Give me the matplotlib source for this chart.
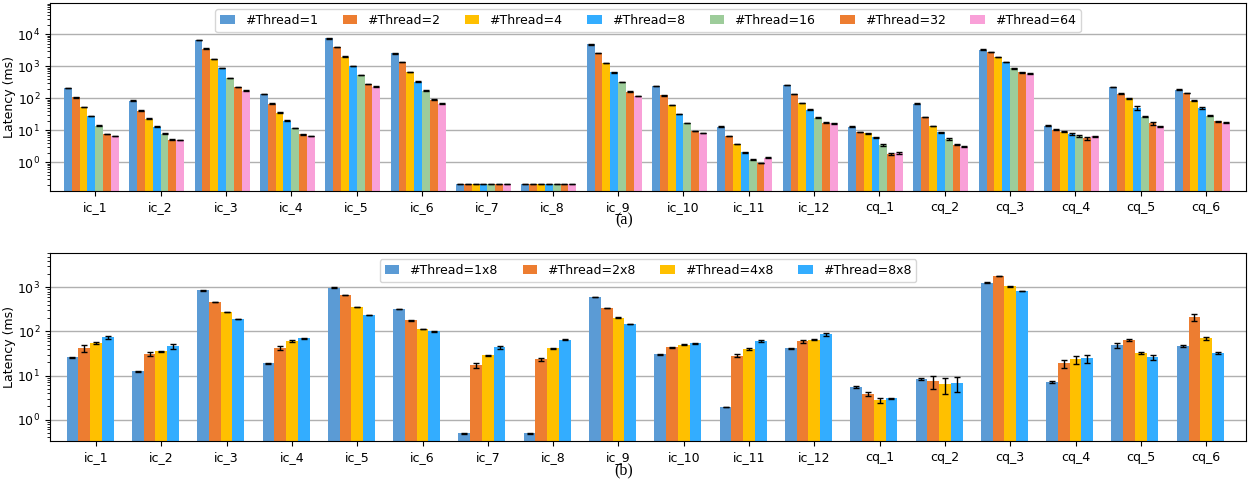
import numpy as np
from matplotlib import pyplot as plt

queries = ["ic_1", "ic_2", "ic_3", "ic_4", "ic_5", "ic_6", "ic_7", "ic_8", "ic_9",
           "ic_10", "ic_11", "ic_12", "cq_1", "cq_2", "cq_3", "cq_4", "cq_5", "cq_6"]

# (a) latency per thread count
threads_a = ["#Thread=1", "#Thread=2", "#Thread=4", "#Thread=8",
             "#Thread=16", "#Thread=32", "#Thread=64"]
lat_a = [
    [211, 84.5, 6640, 137, 7490, 2530, 0.21, 0.21, 4850, 244, 12.9, 256, 12.9, 68, 3300, 13.8, 227, 187],
    [107, 41, 3550, 68, 4000, 1350, 0.21, 0.21, 2590, 124, 6.7, 134, 8.75, 25.9, 2850, 10.4, 140, 147],
    [53, 23, 1720, 35.5, 1990, 672, 0.21, 0.21, 1290, 61.7, 3.68, 71.3, 7.95, 13.5, 1990, 8.97, 100, 84.5],
    [27.9, 12.9, 897, 19.9, 1010, 334, 0.21, 0.21, 640, 32.2, 2.06, 44, 5.96, 8.75, 1350, 7.58, 49.7, 49.7],
    [13.8, 7.8, 435, 11.7, 528, 174, 0.21, 0.21, 326, 16.8, 1.21, 24.7, 3.42, 5.28, 855, 6.7, 26.5, 28.5],
    [7.6, 5.0, 227, 7.4, 282, 91, 0.21, 0.21, 162, 9.6, 0.95, 17.2, 1.78, 3.5, 640, 5.67, 16.4, 18.9],
    [6.7, 4.9, 174, 6.7, 232, 68, 0.21, 0.21, 118, 8.3, 1.37, 16.4, 1.96, 3.1, 595, 6.4, 13.2, 17.2],
]
err_a = [
    [3, 1.5, 100, 2.5, 120, 40, 0.003, 0.003, 80, 4, 0.3, 4, 0.3, 1.2, 50, 0.3, 4, 3],
    [2, 1, 60, 1.5, 70, 25, 0.003, 0.003, 45, 2, 0.15, 2.5, 0.2, 0.5, 45, 0.3, 3, 4],
    [1, 0.5, 30, 0.8, 35, 12, 0.003, 0.003, 22, 1, 0.08, 1.2, 0.2, 0.3, 30, 0.25, 2, 2],
    [0.5, 0.3, 15, 0.4, 18, 6, 0.003, 0.003, 11, 0.6, 0.05, 0.8, 0.3, 0.3, 20, 0.5, 7, 2],
    [0.3, 0.2, 8, 0.3, 9, 3, 0.003, 0.003, 6, 0.3, 0.03, 0.5, 0.3, 0.3, 14, 0.5, 1, 0.8],
    [0.2, 0.15, 4, 0.2, 5, 2, 0.003, 0.003, 3, 0.2, 0.02, 0.3, 0.1, 0.1, 10, 0.6, 1.5, 0.5],
    [0.15, 0.1, 3, 0.15, 4, 1.5, 0.003, 0.003, 2, 0.15, 0.04, 0.3, 0.12, 0.08, 9, 0.3, 0.3, 0.6],
]

# (b) latency per thread layout
threads_b = ["#Thread=1x8", "#Thread=2x8", "#Thread=4x8", "#Thread=8x8"]
lat_b = [
    [26.1, 12.5, 855, 19.1, 983, 322, 0.49, 0.49, 603, 30.5, 1.94, 41.8, 5.43, 8.26, 1277, 7.05, 48.9, 46.4],
    [41.8, 30.5, 464, 41.8, 669, 181, 17.2, 23.5, 339, 44, 28.5, 60.3, 3.76, 7.43, 1811, 19.1, 63.5, 212],
    [54.3, 35.7, 275, 60.3, 357, 113, 29, 41.8, 205, 49.8, 40.4, 64.7, 2.75, 6.35, 1054, 23.5, 32.2, 70.5],
    [74.3, 46.4, 190.6, 70.5, 235, 100, 44, 64.7, 147, 54.3, 60.3, 87, 3.05, 6.69, 826, 24.8, 26.1, 32.2],
]
err_b = [
    [0.6, 0.4, 12, 0.5, 15, 6, 0.01, 0.01, 10, 0.6, 0.04, 0.8, 0.3, 0.4, 25, 0.4, 6, 2.5],
    [7, 3, 8, 4, 10, 4, 2.5, 1.8, 5, 1, 2.5, 5, 0.4, 2.5, 20, 4, 3, 40],
    [2, 1, 4, 4, 5, 2, 1, 0.8, 3, 1, 1.5, 2, 0.4, 2.5, 15, 5, 2, 5],
    [5, 6, 3, 2, 4, 2, 3, 1.5, 2, 1, 3, 6, 0.1, 2.5, 12, 5, 3, 1.2],
]

colors = ["#5B9BD5", "#ED7D31", "#FFC000", "#33ADFF", "#9DCC9A", "#ED7D31", "#F9A0D8"]

plt.rcParams["font.size"] = 9

fig = plt.figure(figsize=(12.49, 4.8), dpi=100)
ax_a = fig.add_axes([0.040, 0.602, 0.9576, 0.392])
ax_b = fig.add_axes([0.040, 0.081, 0.9576, 0.392])


def draw_panel(ax, labels, values, errors, width, xlim, ylim):
    x = np.arange(len(queries))
    n = len(labels)
    for i, (lab, vals, errs) in enumerate(zip(labels, values, errors)):
        ax.bar(x + i * width, vals, width, yerr=errs, color=colors[i], label=lab,
               capsize=2, error_kw=dict(ecolor="black", elinewidth=1, capthick=1))
    ax.set_yscale("log")
    ax.set_ylim(*ylim)
    ax.set_xlim(*xlim)
    ax.set_xticks(x + n * width / 2)
    ax.set_xticklabels(queries)
    ax.set_ylabel("Latency (ms)")
    ax.yaxis.set_label_coords(-0.0288, 0.5)
    ax.yaxis.grid(True, which="major", color="#b0b0b0", linewidth=1)
    ax.set_axisbelow(True)
    ax.legend(loc="upper center", ncol=n, handlelength=1.15)


draw_panel(ax_a, threads_a, lat_a, err_a, 0.12, (-0.274, 18.03), (0.126, 9.6e4))
draw_panel(ax_b, threads_b, lat_b, err_b, 0.18, (-0.345, 17.97), (0.327, 6030))

fig.text(0.4995, 0.540, "(a)", ha="center", va="center", fontsize=11.5, family="Liberation Serif")
fig.text(0.4995, 0.019, "(b)", ha="center", va="center", fontsize=11.5, family="Liberation Serif")

fig.savefig("out.png", dpi=100)
